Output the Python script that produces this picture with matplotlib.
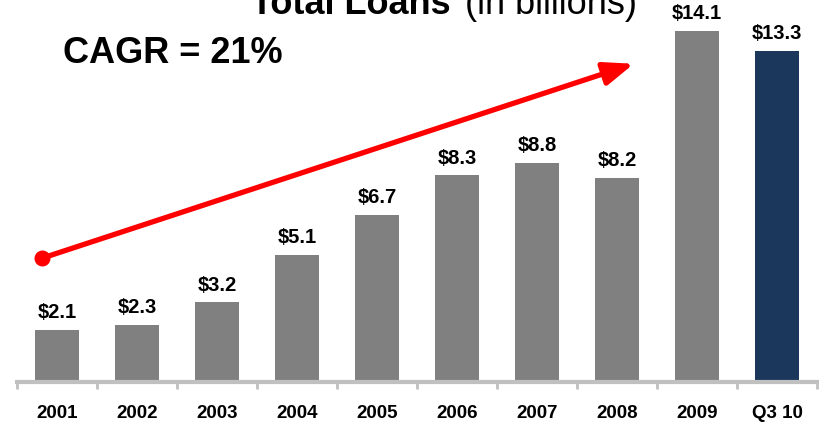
import matplotlib
matplotlib.use("Agg")
import matplotlib.pyplot as plt
import numpy as np

categories = ["2001", "2002", "2003", "2004", "2005", "2006", "2007", "2008", "2009", "Q3 10"]
loans = [2.1, 2.3, 3.2, 5.1, 6.7, 8.3, 8.8, 8.2, 14.1, 13.3]
value_labels = ["$2.1", "$2.3", "$3.2", "$5.1", "$6.7", "$8.3", "$8.8", "$8.2", "$14.1", "$13.3"]
title_bold = "Total Loans"
title_regular = "(in billions)"
cagr_text = "CAGR = 21%"
# trend arrow endpoints (data coords: category index, value)
arrow_start = (-0.19, 4.97)
arrow_end = (7.21, 12.78)

plt.rcParams['font.family'] = ['Liberation Sans', 'DejaVu Sans']

W, H = 819, 425
fig = plt.figure(figsize=(W / 100, H / 100), dpi=100)
ax = fig.add_axes([17 / W, (H - 382) / H, 800 / W, 382 / H])

x = np.arange(len(categories))
colors = ["#808080"] * (len(categories) - 1) + ["#1b375c"]
bars = ax.bar(x, loans, width=0.56, color=colors, zorder=2)

for xi, v, lab in zip(x, loans, value_labels):
    ax.annotate(lab, xy=(xi, v), xytext=(0, 8.5), textcoords="offset points",
                ha="center", va="baseline", fontsize=14.5, fontweight="bold", color="black")

ax.set_xlim(-0.5, len(categories) - 0.5)
ax.set_ylim(0, 382 / 24.9)

for s in ["top", "right", "left"]:
    ax.spines[s].set_visible(False)
ax.spines["bottom"].set_color("#c0c0c0")
ax.spines["bottom"].set_linewidth(3)
ax.spines["bottom"].set_zorder(3)
ax.set_yticks([])

ax.set_xticks(x)
ax.set_xticklabels(categories, fontsize=13.5, fontweight="bold")
ax.tick_params(axis="x", which="major", length=0, pad=16.5)
ax.set_xticks(np.arange(-0.5, len(categories)), minor=True)
ax.tick_params(axis="x", which="minor", length=5, width=2, color="#c0c0c0", direction="out")

# trend arrow
ax.annotate("", xy=arrow_end, xytext=arrow_start,
            arrowprops=dict(arrowstyle="-|>,head_length=0.9,head_width=0.35", color="#ff0000",
                            lw=3.8, mutation_scale=20, shrinkA=0, shrinkB=0),
            zorder=4, annotation_clip=False)
ax.plot([arrow_start[0]], [arrow_start[1]], marker="o", markersize=10.5, color="#ff0000",
        zorder=5, clip_on=False)

# title (partially cut off at top)
fig.text(251 / W, (H - 14) / H, title_bold, fontsize=26, fontweight="bold",
         ha="left", va="baseline")
fig.text(637 / W, (H - 14) / H, title_regular, fontsize=26, ha="right", va="baseline")

fig.text(63 / W, (H - 63) / H, cagr_text, fontsize=26, fontweight="bold",
         ha="left", va="baseline")

fig.savefig("out.png", dpi=100)
